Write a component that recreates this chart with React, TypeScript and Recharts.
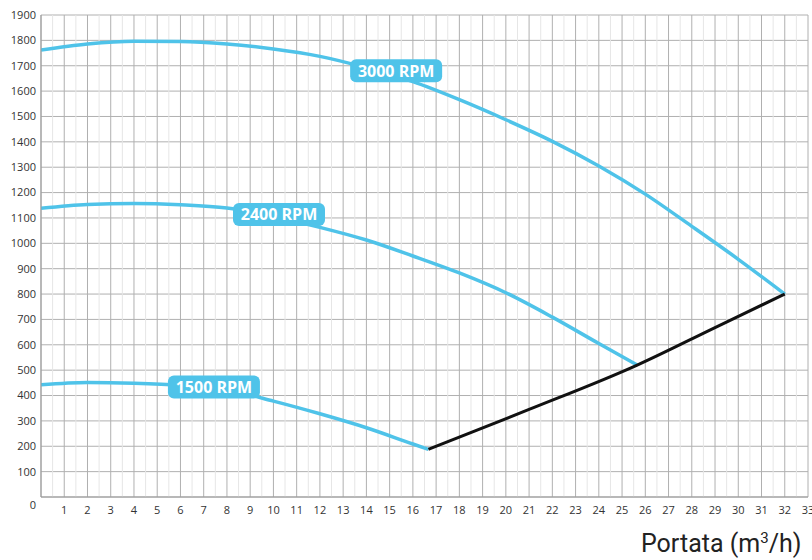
import {
  LineChart,
  Line,
  XAxis,
  YAxis,
  CartesianGrid,
  ReferenceLine,
  ReferenceDot,
} from "recharts";

// curves (flow m3/h -> head)
const flow1500 = [0, 2, 4, 6, 8, 10, 12, 14, 16, 16.67];
const head1500 = [442, 451, 448, 440, 422, 378, 328, 273, 209, 188];

const flow2400 = [0, 2, 4, 6, 8, 10, 12, 14, 16, 18, 20, 22, 24, 25.65];
const head2400 = [1138, 1153, 1157, 1152, 1139, 1106, 1063, 1013, 950, 883, 805, 709, 605, 520];

const flow3000 = [0, 2, 4, 6, 8, 10, 12, 14, 16, 18, 20, 22, 24, 26, 28, 30, 32];
const head3000 = [1762, 1786, 1797, 1796, 1786, 1766, 1737, 1692, 1637, 1566, 1487, 1402, 1305, 1194, 1067, 937, 800];

const limitFlow = [16.67, 21, 25.65, 29, 32];
const limitHead = [188, 345, 520, 668, 800];

const rpmNames = ["3000 RPM", "2400 RPM", "1500 RPM"];
const rpmFlow = [15.28, 10.24, 7.44];
const rpmHead = [1680, 1114, 434];

const xTicks = Array.from({ length: 34 }, (_, i) => i);
const xHalf = Array.from({ length: 33 }, (_, i) => i + 0.5);
const yTicks = Array.from({ length: 20 }, (_, i) => i * 100);

const BLUE = "#4fc3e9";
const FONT = "'Open Sans', sans-serif";

const toPoints = (xs: number[], ys: number[]) =>
  xs.map((q, i) => ({ q, h: ys[i] }));

function YTick({ x, y, payload }: any) {
  const zero = payload.value === 0;
  return (
    <text
      x={x}
      y={y + (zero ? 8 : 0)}
      dy="0.355em"
      textAnchor="end"
      fontSize={11}
      fill="#333"
      fontFamily={FONT}
    >
      {payload.value}
    </text>
  );
}

function RpmTag(props: any) {
  const { cx, cy, text } = props;
  return (
    <g>
      <rect x={cx - 46} y={cy - 11.5} width={92} height={23} rx={6} fill={BLUE} />
      <text
        x={cx}
        y={cy}
        dy="0.36em"
        textAnchor="middle"
        fill="#fff"
        fontWeight={700}
        fontSize={16}
        fontFamily={FONT}
      >
        {text}
      </text>
    </g>
  );
}

export default function App() {
  return (
    <div style={{ position: "absolute", left: 0, top: 0, width: 812, height: 560 }}>
      <LineChart
        width={812}
        height={560}
        margin={{ top: 15, right: 4, bottom: 33, left: 0 }}
      >
        {xHalf.map((v) => (
          <ReferenceLine key={"m" + v} x={v} stroke="#e6e6e6" strokeWidth={1} />
        ))}
        <CartesianGrid stroke="#b0b0b0" />
        <XAxis
          type="number"
          dataKey="q"
          domain={[0, 33]}
          ticks={xTicks}
          interval={0}
          height={30}
          tickSize={0}
          tickMargin={9}
          tickFormatter={(v: number) => (v === 0 ? "" : String(v))}
          tick={{ fontSize: 11, fill: "#333", fontFamily: FONT }}
          stroke="#999"
          allowDataOverflow
        />
        <YAxis
          type="number"
          domain={[0, 1900]}
          ticks={yTicks}
          interval={0}
          width={41}
          tickSize={0}
          tickMargin={5}
          tick={<YTick />}
          stroke="#999"
        />
        <Line
          data={toPoints(flow3000, head3000)}
          dataKey="h"
          type="monotone"
          stroke={BLUE}
          strokeWidth={3.5}
          dot={false}
          isAnimationActive={false}
        />
        <Line
          data={toPoints(flow2400, head2400)}
          dataKey="h"
          type="monotone"
          stroke={BLUE}
          strokeWidth={3.5}
          dot={false}
          isAnimationActive={false}
        />
        <Line
          data={toPoints(flow1500, head1500)}
          dataKey="h"
          type="monotone"
          stroke={BLUE}
          strokeWidth={3.5}
          dot={false}
          isAnimationActive={false}
        />
        <Line
          data={toPoints(limitFlow, limitHead)}
          dataKey="h"
          type="monotone"
          stroke="#111"
          strokeWidth={3}
          dot={false}
          isAnimationActive={false}
        />
        {rpmNames.map((name, i) => (
          <ReferenceDot
            key={name}
            x={rpmFlow[i]}
            y={rpmHead[i]}
            shape={(p: any) => <RpmTag {...p} text={name} />}
          />
        ))}
      </LineChart>
      <div
        style={{
          position: "absolute",
          left: 641,
          top: 531,
          fontFamily: "Roboto, sans-serif",
          fontSize: 25,
          lineHeight: "25px",
          color: "#222",
          whiteSpace: "nowrap",
        }}
      >
        Portata (m
        <span style={{ fontSize: 15, position: "relative", top: -9 }}>3</span>
        /h)
      </div>
    </div>
  );
}
